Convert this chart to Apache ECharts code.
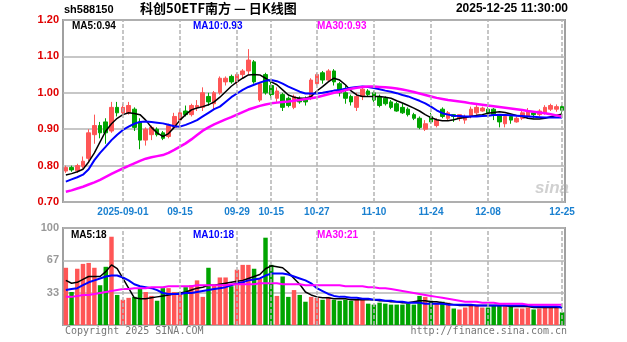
<!DOCTYPE html>
<html>
<head>
<meta charset="utf-8">
<script src="https://cdn.jsdelivr.net/npm/echarts@6/dist/echarts.min.js"></script>
<style>
  html, body { margin: 0; padding: 0; background: #fff; }
  #chart { width: 627px; height: 342px; }
</style>
</head>
<body>
<div id="chart"></div>
<script>
// Trading days shown on the daily K-line chart
const dates = [
  '2025-08-18','2025-08-19','2025-08-20','2025-08-21','2025-08-22','2025-08-25','2025-08-26','2025-08-27','2025-08-28','2025-08-29',
  '2025-09-01','2025-09-02','2025-09-03','2025-09-04','2025-09-05','2025-09-08','2025-09-09','2025-09-10','2025-09-11','2025-09-12',
  '2025-09-15','2025-09-16','2025-09-17','2025-09-18','2025-09-19','2025-09-22','2025-09-23','2025-09-24','2025-09-25','2025-09-26',
  '2025-09-29','2025-09-30','2025-10-09','2025-10-10','2025-10-13','2025-10-14','2025-10-15','2025-10-16','2025-10-17','2025-10-20',
  '2025-10-21','2025-10-22','2025-10-23','2025-10-24','2025-10-27','2025-10-28','2025-10-29','2025-10-30','2025-10-31','2025-11-03',
  '2025-11-04','2025-11-05','2025-11-06','2025-11-07','2025-11-10','2025-11-11','2025-11-12','2025-11-13','2025-11-14','2025-11-17',
  '2025-11-18','2025-11-19','2025-11-20','2025-11-21','2025-11-24','2025-11-25','2025-11-26','2025-11-27','2025-11-28','2025-12-01',
  '2025-12-02','2025-12-03','2025-12-04','2025-12-05','2025-12-08','2025-12-09','2025-12-10','2025-12-11','2025-12-12','2025-12-15',
  '2025-12-16','2025-12-17','2025-12-18','2025-12-19','2025-12-22','2025-12-23','2025-12-24','2025-12-25'
];

// Dates that carry an axis label and a vertical guide
const tickDates = ['2025-09-01','2025-09-15','2025-09-29','2025-10-15','2025-10-27','2025-11-10','2025-11-24','2025-12-08','2025-12-25'];

const open = [
  0.785,0.795,0.786,0.798,0.820,0.885,0.910,0.920,0.895,0.960,
  0.945,0.945,0.955,0.920,0.870,0.885,0.900,0.890,0.880,0.905,
  0.925,0.950,0.940,0.960,0.960,0.990,0.970,1.000,1.030,1.045,
  1.030,1.050,1.060,1.085,0.980,1.050,1.020,0.985,0.995,0.985,
  0.960,0.985,0.985,0.985,1.025,1.055,1.035,1.060,1.025,1.000,
  0.990,0.960,0.990,1.005,1.000,0.990,0.985,0.975,0.970,0.960,
  0.955,0.940,0.930,0.900,0.935,0.910,0.955,0.930,0.940,0.930,
  0.925,0.935,0.945,0.950,0.955,0.955,0.940,0.915,0.935,0.920,
  0.930,0.935,0.945,0.940,0.945,0.955,0.955,0.962
];
const close = [
  0.795,0.788,0.800,0.812,0.890,0.910,0.890,0.890,0.960,0.945,
  0.960,0.965,0.905,0.870,0.900,0.905,0.885,0.875,0.910,0.935,
  0.945,0.940,0.965,0.965,1.000,0.975,1.000,1.040,1.040,1.030,
  1.050,1.060,1.090,1.030,1.025,1.000,0.995,1.005,0.960,0.965,
  0.990,0.975,0.975,1.035,1.050,1.035,1.060,1.030,1.000,0.985,
  0.975,0.990,1.010,0.995,0.980,0.965,0.970,0.960,0.950,0.945,
  0.940,0.930,0.905,0.915,0.920,0.925,0.935,0.945,0.935,0.940,
  0.935,0.955,0.960,0.958,0.945,0.940,0.920,0.935,0.925,0.930,
  0.945,0.950,0.940,0.950,0.960,0.965,0.962,0.952
];
const low = [
  0.780,0.783,0.780,0.792,0.808,0.860,0.875,0.860,0.890,0.935,
  0.940,0.940,0.895,0.845,0.855,0.870,0.880,0.870,0.875,0.900,
  0.910,0.935,0.935,0.950,0.950,0.965,0.955,0.995,1.020,1.025,
  1.020,1.040,1.050,1.025,0.975,0.995,0.985,0.975,0.950,0.960,
  0.955,0.970,0.965,0.980,1.020,1.025,1.030,1.020,0.990,0.970,
  0.965,0.950,0.980,0.990,0.975,0.960,0.965,0.955,0.948,0.942,
  0.935,0.925,0.900,0.895,0.915,0.905,0.930,0.925,0.920,0.922,
  0.915,0.930,0.940,0.948,0.935,0.925,0.905,0.905,0.915,0.918,
  0.925,0.930,0.930,0.935,0.940,0.950,0.948,0.945
];
const high = [
  0.800,0.800,0.805,0.825,0.900,0.940,0.920,0.930,0.975,0.975,
  0.970,0.975,0.960,0.930,0.905,0.910,0.905,0.895,0.915,0.945,
  0.955,0.965,0.970,0.980,1.015,1.000,1.005,1.045,1.045,1.050,
  1.055,1.065,1.120,1.090,1.030,1.055,1.030,1.015,1.000,0.990,
  0.995,0.990,0.990,1.040,1.055,1.060,1.065,1.065,1.030,1.020,
  0.995,1.000,1.015,1.010,1.005,0.995,0.990,0.980,0.975,0.970,
  0.960,0.945,0.935,0.925,0.945,0.930,0.960,0.950,0.940,0.940,
  0.940,0.962,0.966,0.962,0.960,0.958,0.940,0.940,0.940,0.935,
  0.952,0.958,0.950,0.955,0.966,0.970,0.968,0.966
];

// Price moving averages
const ma5 = [
  0.774,0.778,0.783,0.790,0.810,0.835,0.865,0.895,0.915,0.930,
  0.940,0.945,0.943,0.940,0.925,0.905,0.890,0.880,0.888,0.905,
  0.925,0.940,0.953,0.958,0.962,0.967,0.975,0.988,1.003,1.018,
  1.030,1.040,1.049,1.050,1.049,1.040,1.030,1.022,1.008,0.994,
  0.988,0.985,0.985,0.990,1.005,1.017,1.030,1.040,1.035,1.022,
  1.005,0.994,0.990,0.990,0.990,0.990,0.988,0.985,0.978,0.972,
  0.965,0.958,0.950,0.940,0.932,0.926,0.923,0.923,0.926,0.930,
  0.932,0.935,0.938,0.940,0.944,0.946,0.948,0.946,0.942,0.938,
  0.935,0.930,0.928,0.928,0.930,0.934,0.938,0.942
];
const ma10 = [
  0.756,0.762,0.768,0.775,0.790,0.815,0.835,0.852,0.870,0.885,
  0.898,0.907,0.915,0.920,0.921,0.920,0.918,0.916,0.912,0.908,
  0.907,0.912,0.918,0.925,0.935,0.945,0.955,0.962,0.975,0.988,
  0.998,1.008,1.016,1.022,1.028,1.033,1.035,1.032,1.025,1.017,
  1.010,1.003,0.998,0.998,0.998,1.000,1.003,1.006,1.008,1.011,
  1.014,1.016,1.017,1.016,1.013,1.010,1.006,1.003,0.999,0.994,
  0.990,0.984,0.978,0.971,0.962,0.952,0.944,0.940,0.937,0.936,
  0.935,0.935,0.935,0.936,0.937,0.939,0.940,0.939,0.938,0.937,
  0.936,0.935,0.934,0.933,0.932,0.932,0.932,0.932
];
const ma30 = [
  0.728,0.732,0.737,0.742,0.748,0.754,0.761,0.769,0.777,0.785,
  0.792,0.799,0.806,0.813,0.819,0.823,0.826,0.829,0.835,0.843,
  0.852,0.861,0.872,0.884,0.896,0.905,0.913,0.920,0.927,0.933,
  0.940,0.947,0.954,0.959,0.964,0.968,0.971,0.973,0.975,0.976,
  0.978,0.980,0.983,0.985,0.988,0.992,0.996,1.000,1.003,1.007,
  1.011,1.014,1.016,1.017,1.017,1.016,1.015,1.014,1.012,1.009,
  1.006,1.002,0.998,0.994,0.990,0.986,0.983,0.980,0.978,0.976,
  0.974,0.971,0.969,0.967,0.965,0.963,0.961,0.959,0.957,0.955,
  0.953,0.950,0.948,0.946,0.944,0.941,0.938,0.935
];

// Volume (万手) and its moving averages
const volume = [
  59,34,58,63,64,59,41,60,91,31,
  26,28,29,38,34,30,25,38,38,34,
  33,39,41,46,29,59,41,49,49,40,
  57,62,62,58,48,90,62,30,50,29,
  36,31,24,29,28,26,29,26,25,26,
  25,26,26,22,21,23,22,21,21,21,
  22,21,30,29,25,23,24,23,17,16,
  18,20,20,18,18,20,20,20,20,17,
  17,18,16,17,18,18,18,13
];
const volMa5 = [
  46,43,44,47,50,50,50,55,62,58,
  48,38,28,27,27,28,29,30,31,32,
  33,34,36,38,39,41,41,42,43,44,
  45,46,48,50,52,58,61,60,59,54,
  48,42,34,31,29,28,28,27,27,27,
  26,26,26,26,26,25,25,24,24,23,
  23,24,25,25,24,24,23,22,21,20,
  20,20,20,20,20,20,20,20,19,19,
  19,19,18,18,18,18,18,18
];
const volMa10 = [
  36,37,38,41,44,46,48,50,51,51,
  49,46,42,40,39,38,36,33,32,32,
  32,33,33,34,35,36,37,38,39,41,
  43,44,46,47,48,51,53,53,53,52,
  50,48,46,43,38,35,32,30,29,29,
  28,28,27,27,26,26,25,25,24,24,
  23,23,23,22,22,22,22,21,21,21,
  21,21,20,20,20,20,20,20,20,20,
  20,20,19,19,19,19,19,18
];
const volMa30 = [
  29,29,30,31,31,32,33,34,35,36,
  37,37,38,38,38,39,39,39,40,40,
  40,40,40,41,41,41,41,41,41,42,
  42,42,42,42,43,43,43,43,42,42,
  42,42,41,41,41,41,41,41,41,40,
  40,40,40,39,39,38,38,37,36,35,
  34,33,32,31,30,29,28,27,26,25,
  24,24,24,23,23,23,22,22,22,22,
  22,21,21,21,21,21,21,21
];

const UP = '#ff5656';
const DOWN = '#00a400';
const GRID_LINE = '#b4b4b4';

const candles = dates.map((d, i) => [open[i], close[i], low[i], high[i]]);
const volBars = volume.map((v, i) => ({
  value: v,
  itemStyle: { color: close[i] >= open[i] ? UP : DOWN }
}));
const tickIdx = tickDates.map(d => dates.indexOf(d));

const guideLines = {
  silent: true,
  symbol: 'none',
  label: { show: false },
  lineStyle: { color: GRID_LINE, type: [4, 2], width: 1.5 },
  data: tickDates.map(d => ({ xAxis: d }))
};

function maLine(name, data, color, width, xi) {
  return {
    name, type: 'line', data, xAxisIndex: xi, yAxisIndex: xi,
    symbol: 'none', smooth: false, silent: true,
    lineStyle: { color, width }
  };
}

const chart = echarts.init(document.getElementById('chart'));
chart.setOption({
  animation: false,
  backgroundColor: '#fff',
  grid: [
    { left: 63, top: 20, width: 502, height: 182, show: true, borderColor: '#a0a0a0', borderWidth: 2 },
    { left: 63, top: 228, width: 502, height: 97, show: true, borderColor: '#a0a0a0', borderWidth: 2 }
  ],
  xAxis: [
    {
      type: 'category', gridIndex: 0, data: dates, boundaryGap: true,
      axisLine: { show: false }, axisTick: { show: false }, splitLine: { show: false },
      axisLabel: {
        interval: (i) => tickIdx.includes(i),
        formatter: (v) => v === '2025-09-01' ? v : v.slice(5),
        color: '#1a80d0', fontSize: 10, fontWeight: 'bold',
        fontFamily: 'Liberation Sans', margin: 5
      }
    },
    {
      type: 'category', gridIndex: 1, data: dates, boundaryGap: true,
      axisLine: { show: false }, axisTick: { show: false }, splitLine: { show: false },
      axisLabel: { show: false }
    }
  ],
  yAxis: [
    {
      type: 'value', gridIndex: 0, min: 0.7, max: 1.2, interval: 0.1,
      axisLine: { show: false }, axisTick: { show: false },
      splitLine: { show: true, lineStyle: { color: GRID_LINE, width: 1.5 } },
      axisLabel: {
        formatter: (v) => v.toFixed(2), color: '#e00000', fontSize: 11,
        fontWeight: 'bold', fontFamily: 'Liberation Sans', margin: 4
      }
    },
    {
      type: 'value', gridIndex: 1, min: 0, max: 100, interval: 100 / 3,
      axisLine: { show: false }, axisTick: { show: false },
      splitLine: { show: true, lineStyle: { color: GRID_LINE, width: 1.5 } },
      axisLabel: {
        formatter: (v) => v === 0 ? '' : String(Math.round(v)), color: '#999', fontSize: 11,
        fontWeight: 'bold', fontFamily: 'Liberation Sans', margin: 4
      }
    }
  ],
  series: [
    {
      name: 'K', type: 'candlestick', data: candles, xAxisIndex: 0, yAxisIndex: 0,
      barWidth: '72%', silent: true,
      itemStyle: { color: UP, color0: DOWN, borderColor: UP, borderColor0: DOWN, borderWidth: 1 },
      markLine: guideLines
    },
    maLine('MA5', ma5, '#000000', 1.5, 0),
    maLine('MA10', ma10, '#0000ff', 2, 0),
    maLine('MA30', ma30, '#ff00ff', 2.5, 0),
    {
      name: 'VOL', type: 'bar', data: volBars, xAxisIndex: 1, yAxisIndex: 1,
      barWidth: '78%', silent: true, markLine: guideLines
    },
    maLine('VMA5', volMa5, '#000000', 1.5, 1),
    maLine('VMA10', volMa10, '#0000ff', 2, 1),
    maLine('VMA30', volMa30, '#ff00ff', 2, 1)
  ],
  graphic: [
    { type: 'text', left: 64, top: 4, style: { text: 'sh588150', fill: '#000', font: 'bold 11px "Liberation Sans"' } },
    { type: 'text', left: 140, top: 2, style: { text: '科创50ETF南方 — 日K线图', fill: '#000', font: 'bold 13px "Noto Sans CJK SC"' } },
    { type: 'text', right: 59, top: 3, style: { text: '2025-12-25 11:30:00', fill: '#000', font: 'bold 12px "Liberation Sans"' } },
    { type: 'text', left: 72, top: 21, style: { text: 'MA5:0.94', fill: '#000', font: 'bold 10px "Liberation Sans"' } },
    { type: 'text', left: 193, top: 21, style: { text: 'MA10:0.93', fill: '#0000ff', font: 'bold 10px "Liberation Sans"' } },
    { type: 'text', left: 317, top: 21, style: { text: 'MA30:0.93', fill: '#ff00ff', font: 'bold 10px "Liberation Sans"' } },
    { type: 'text', left: 71, top: 230, style: { text: 'MA5:18', fill: '#000', font: 'bold 10px "Liberation Sans"' } },
    { type: 'text', left: 193, top: 230, style: { text: 'MA10:18', fill: '#0000ff', font: 'bold 10px "Liberation Sans"' } },
    { type: 'text', left: 317, top: 230, style: { text: 'MA30:21', fill: '#ff00ff', font: 'bold 10px "Liberation Sans"' } },
    { type: 'text', left: 535, top: 180, style: { text: 'sina', fill: 'rgba(170,170,170,0.55)', font: 'italic bold 17px "Liberation Sans"' } },
    { type: 'text', left: 65, top: 326, style: { text: 'Copyright 2025 SINA.COM', fill: '#777', font: '10px "DejaVu Sans Mono"' } },
    { type: 'text', right: 60, top: 326, style: { text: 'http://finance.sina.com.cn', fill: '#777', font: '10px "DejaVu Sans Mono"' } }
  ]
});
</script>
</body>
</html>
